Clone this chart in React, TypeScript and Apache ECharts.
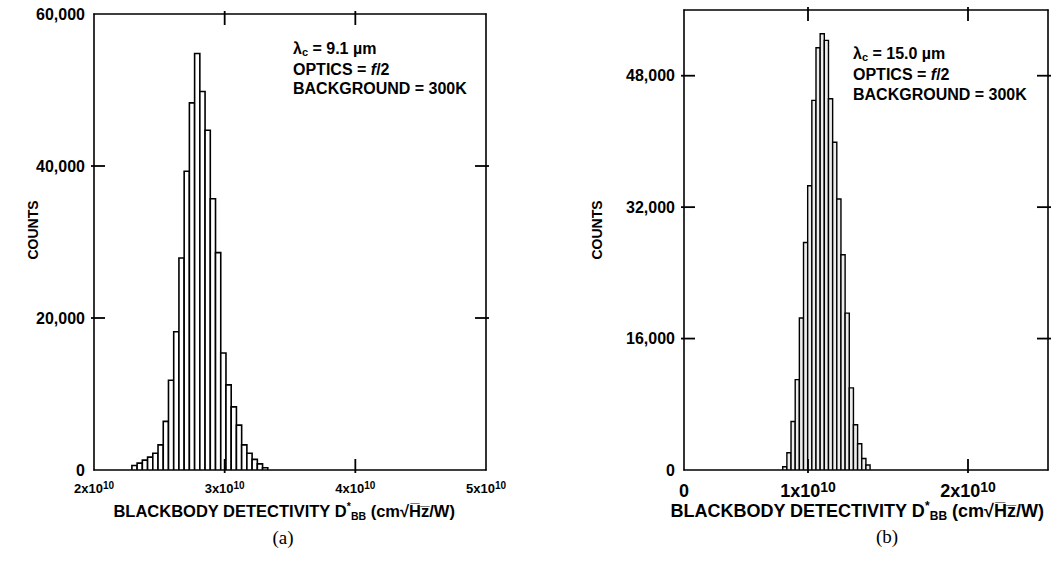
import React, { useEffect, useRef } from "react";
import * as echarts from "echarts";

// Values in units of 1e10 cm·√Hz/W
const leftBinStarts = [2.29, 2.33, 2.37, 2.41, 2.45, 2.49, 2.53, 2.57, 2.61, 2.65, 2.69, 2.73, 2.77, 2.81, 2.85, 2.89, 2.93, 2.97, 3.01, 3.05, 3.09, 3.13, 3.17, 3.21, 3.25, 3.29];
const leftBinWidth = 0.04;
const leftCounts = [600, 900, 1300, 1700, 2200, 3300, 6400, 11800, 18200, 27900, 39300, 48300, 54800, 49800, 44700, 35700, 28600, 15400, 11200, 8300, 5900, 3300, 2200, 1400, 800, 300];

const rightBinStarts = [0.842, 0.868, 0.894, 0.92, 0.946, 0.972, 0.998, 1.024, 1.05, 1.076, 1.102, 1.128, 1.154, 1.18, 1.206, 1.232, 1.258, 1.284, 1.31, 1.336, 1.362];
const rightBinWidth = 0.026;
const rightCounts = [400, 2100, 5900, 11000, 18500, 27700, 34600, 45000, 51400, 53100, 52300, 45200, 39900, 33000, 26200, 19100, 10000, 5500, 3200, 1400, 600];

// axis ranges and ticks
const leftXRange = [2, 5];
const leftYRange = [0, 60000];
const leftXInnerTicks = [3, 4];
const leftYInnerTicks = [20000, 40000];
const rightXRange = [0.225, 2.5];
const rightYRange = [0, 56000];
const rightXLabels = [0.225, 1, 2];
const rightXInnerTicks = [1, 2];
const rightYTicks = [0, 16000, 32000, 48000];
const rightYInnerTicks = [16000, 32000, 48000];

const FONT = "'Liberation Sans', Arial, Helvetica, sans-serif";
const SERIF = "'Liberation Serif', 'Times New Roman', serif";
const TICK_IN = 11;
const TICK_OUT = 3;

function histSeries(starts: number[], width: number, counts: number[], axisIdx: number, fill: string, lw: number) {
  return {
    type: "custom",
    xAxisIndex: axisIdx,
    yAxisIndex: axisIdx,
    clip: true,
    encode: { x: [0, 1], y: 2 },
    data: starts.map((s, i) => [s, s + width, counts[i]]),
    renderItem: (params: any, api: any) => {
      const p0 = api.coord([api.value(0), api.value(2)]);
      const p1 = api.coord([api.value(1), 0]);
      return {
        type: "rect",
        shape: { x: p0[0], y: p0[1], width: p1[0] - p0[0], height: p1[1] - p0[1] },
        style: { fill, stroke: "#000", lineWidth: lw },
      };
    },
  };
}

const lineStyle = { show: true, onZero: false, lineStyle: { color: "#000", width: 1.6 } };

export default function App() {
  const ref = useRef<HTMLDivElement>(null);
  useEffect(() => {
    if (!ref.current) return;
    const chart = echarts.init(ref.current, undefined, { renderer: "svg" });
    const supRich = (main: number, sup: number) => ({
      m: { fontSize: main, fontFamily: FONT, fontWeight: "bold", color: "#000", lineHeight: main + 4 },
      s: { fontSize: sup, fontFamily: FONT, fontWeight: "bold", color: "#000", lineHeight: sup, verticalAlign: "top" },
    });
    const annRich = {
      a: { fontSize: 16, fontFamily: FONT, fontWeight: "bold", fill: "#000", lineHeight: 18 },
      s: { fontSize: 11, fontFamily: FONT, fontWeight: "bold", fill: "#000", lineHeight: 10, verticalAlign: "bottom" },
      i: { fontSize: 16, fontFamily: FONT, fontWeight: "bold", fill: "#000", lineHeight: 18, fontStyle: "italic" },
    };
    const titleRich = (fs: number) => ({
      a: { fontSize: fs, fontFamily: FONT, fontWeight: "bold", fill: "#000", lineHeight: fs + 4 },
      sup: { fontSize: fs - 6, fontFamily: FONT, fontWeight: "bold", fill: "#000", lineHeight: fs - 6, verticalAlign: "top" },
      sub: { fontSize: fs - 6, fontFamily: FONT, fontWeight: "bold", fill: "#000", lineHeight: fs - 6, verticalAlign: "bottom" },
    });
    const titleText = "{a|BLACKBODY DETECTIVITY D}{sup|*}{sub|BB}{a| (cm\u221AH\u0305z\u0305/W)}";
    const yLabel = { margin: 9, fontSize: 16, fontWeight: "bold", fontFamily: FONT, color: "#000", formatter: (v: number) => v.toLocaleString("en-US") };
    const noTick = { show: false };

    chart.setOption({
      animation: false,
      backgroundColor: "#fff",
      grid: [
        { left: 94, top: 14, width: 392, height: 456 },
        { left: 684, top: 10, width: 364, height: 460 },
      ],
      xAxis: [
        {
          gridIndex: 0, type: "value", min: leftXRange[0], max: leftXRange[1], interval: 1, position: "bottom",
          axisLine: lineStyle, splitLine: { show: false }, axisTick: noTick,
          axisLabel: { margin: 10, formatter: (v: number) => `{m|${v}x10}{s|10}`, rich: supRich(13, 10) },
        },
        {
          gridIndex: 0, type: "value", min: leftXRange[0], max: leftXRange[1], interval: 1, position: "top",
          axisLine: lineStyle, splitLine: { show: false }, axisTick: noTick, axisLabel: { show: false },
        },
        {
          gridIndex: 1, type: "value", min: rightXRange[0], max: rightXRange[1], position: "bottom",
          axisLine: lineStyle, splitLine: { show: false }, axisTick: noTick,
          axisLabel: {
            margin: 10, customValues: rightXLabels,
            formatter: (v: number) => (v < 0.5 ? "{m|0}" : `{m|${v}x10}{s|10}`), rich: supRich(18, 14),
          },
        },
        {
          gridIndex: 1, type: "value", min: rightXRange[0], max: rightXRange[1], position: "top",
          axisLine: lineStyle, splitLine: { show: false }, axisTick: noTick, axisLabel: { show: false },
        },
      ],
      yAxis: [
        {
          gridIndex: 0, type: "value", min: leftYRange[0], max: leftYRange[1], interval: 20000, position: "left",
          axisLine: lineStyle, splitLine: { show: false }, axisTick: noTick, axisLabel: yLabel,
        },
        {
          gridIndex: 0, type: "value", min: leftYRange[0], max: leftYRange[1], interval: 20000, position: "right",
          axisLine: lineStyle, splitLine: { show: false }, axisTick: noTick, axisLabel: { show: false },
        },
        {
          gridIndex: 1, type: "value", min: rightYRange[0], max: rightYRange[1], position: "left",
          axisLine: lineStyle, splitLine: { show: false }, axisTick: noTick,
          axisLabel: { ...yLabel, customValues: rightYTicks },
        },
        {
          gridIndex: 1, type: "value", min: rightYRange[0], max: rightYRange[1], position: "right",
          axisLine: lineStyle, splitLine: { show: false }, axisTick: noTick, axisLabel: { show: false },
        },
      ],
      series: [
        histSeries(leftBinStarts, leftBinWidth, leftCounts, 0, "#fff", 1.6),
        histSeries(rightBinStarts, rightBinWidth, rightCounts, 2, "#ececec", 1.4),
      ],
    });

    // tick marks on all four sides, positioned through the axes' own scales
    const ticks: any[] = [];
    const tickLine = (x1: number, y1: number, x2: number, y2: number) => ({
      type: "line", z: 50, silent: true,
      shape: { x1, y1, x2, y2 },
      style: { stroke: "#000", lineWidth: 1.8 },
    });
    const addTicks = (xi: number, yi: number, xr: number[], yr: number[], xt: number[], yt: number[]) => {
      const xL = Number(chart.convertToPixel({ xAxisIndex: xi }, xr[0]));
      const xR = Number(chart.convertToPixel({ xAxisIndex: xi }, xr[1]));
      const yB = Number(chart.convertToPixel({ yAxisIndex: yi }, yr[0]));
      const yT = Number(chart.convertToPixel({ yAxisIndex: yi }, yr[1]));
      xt.forEach((v) => {
        const x = Number(chart.convertToPixel({ xAxisIndex: xi }, v));
        ticks.push(tickLine(x, yB + TICK_OUT, x, yB - TICK_IN), tickLine(x, yT - TICK_OUT, x, yT + TICK_IN));
      });
      yt.forEach((v) => {
        const y = Number(chart.convertToPixel({ yAxisIndex: yi }, v));
        ticks.push(tickLine(xL - TICK_OUT, y, xL + TICK_IN, y), tickLine(xR + TICK_OUT, y, xR - TICK_IN, y));
      });
    };
    addTicks(0, 0, leftXRange, leftYRange, leftXInnerTicks, leftYInnerTicks);
    addTicks(2, 2, rightXRange, rightYRange, rightXInnerTicks, rightYInnerTicks);

    const txt = (x: number, y: number, style: any, extra: any = {}) => ({ type: "text", x, y, z: 50, style, ...extra });

    chart.setOption({
      graphic: [
        ...ticks,
        // left annotation
        txt(293, 48, { text: "{a|\u03BB}{s|c}{a| = 9.1 \u00B5m}", rich: annRich, verticalAlign: "middle" }),
        txt(293, 69, { text: "{a|OPTICS = }{i|f}{a|/2}", rich: annRich, verticalAlign: "middle" }),
        txt(293, 88, { text: "{a|BACKGROUND = 300K}", rich: annRich, verticalAlign: "middle" }),
        // right annotation
        txt(853, 53, { text: "{a|\u03BB}{s|c}{a| = 15.0 \u00B5m}", rich: annRich, verticalAlign: "middle" }),
        txt(853, 74, { text: "{a|OPTICS = }{i|f}{a|/2}", rich: annRich, verticalAlign: "middle" }),
        txt(853, 94, { text: "{a|BACKGROUND = 300K}", rich: annRich, verticalAlign: "middle" }),
        // COUNTS labels
        txt(33, 230, { text: "COUNTS", fontSize: 14, fontWeight: "bold", fontFamily: FONT, fill: "#000", align: "center", verticalAlign: "middle" }, { rotation: Math.PI / 2 }),
        txt(597, 230, { text: "COUNTS", fontSize: 14, fontWeight: "bold", fontFamily: FONT, fill: "#000", align: "center", verticalAlign: "middle" }, { rotation: Math.PI / 2 }),
        // x titles
        txt(284, 511, { text: titleText, rich: titleRich(16.5), align: "center", verticalAlign: "middle" }),
        txt(857, 511, { text: titleText, rich: titleRich(18), align: "center", verticalAlign: "middle" }),
        // captions
        txt(283, 537, { text: "(a)", fontSize: 19, fontFamily: SERIF, fill: "#000", align: "center", verticalAlign: "middle" }),
        txt(887, 536, { text: "(b)", fontSize: 19, fontFamily: SERIF, fill: "#000", align: "center", verticalAlign: "middle" }),
      ],
    });
    return () => chart.dispose();
  }, []);
  return <div ref={ref} style={{ position: "absolute", left: 0, top: 0, width: 1063, height: 567 }} />;
}
